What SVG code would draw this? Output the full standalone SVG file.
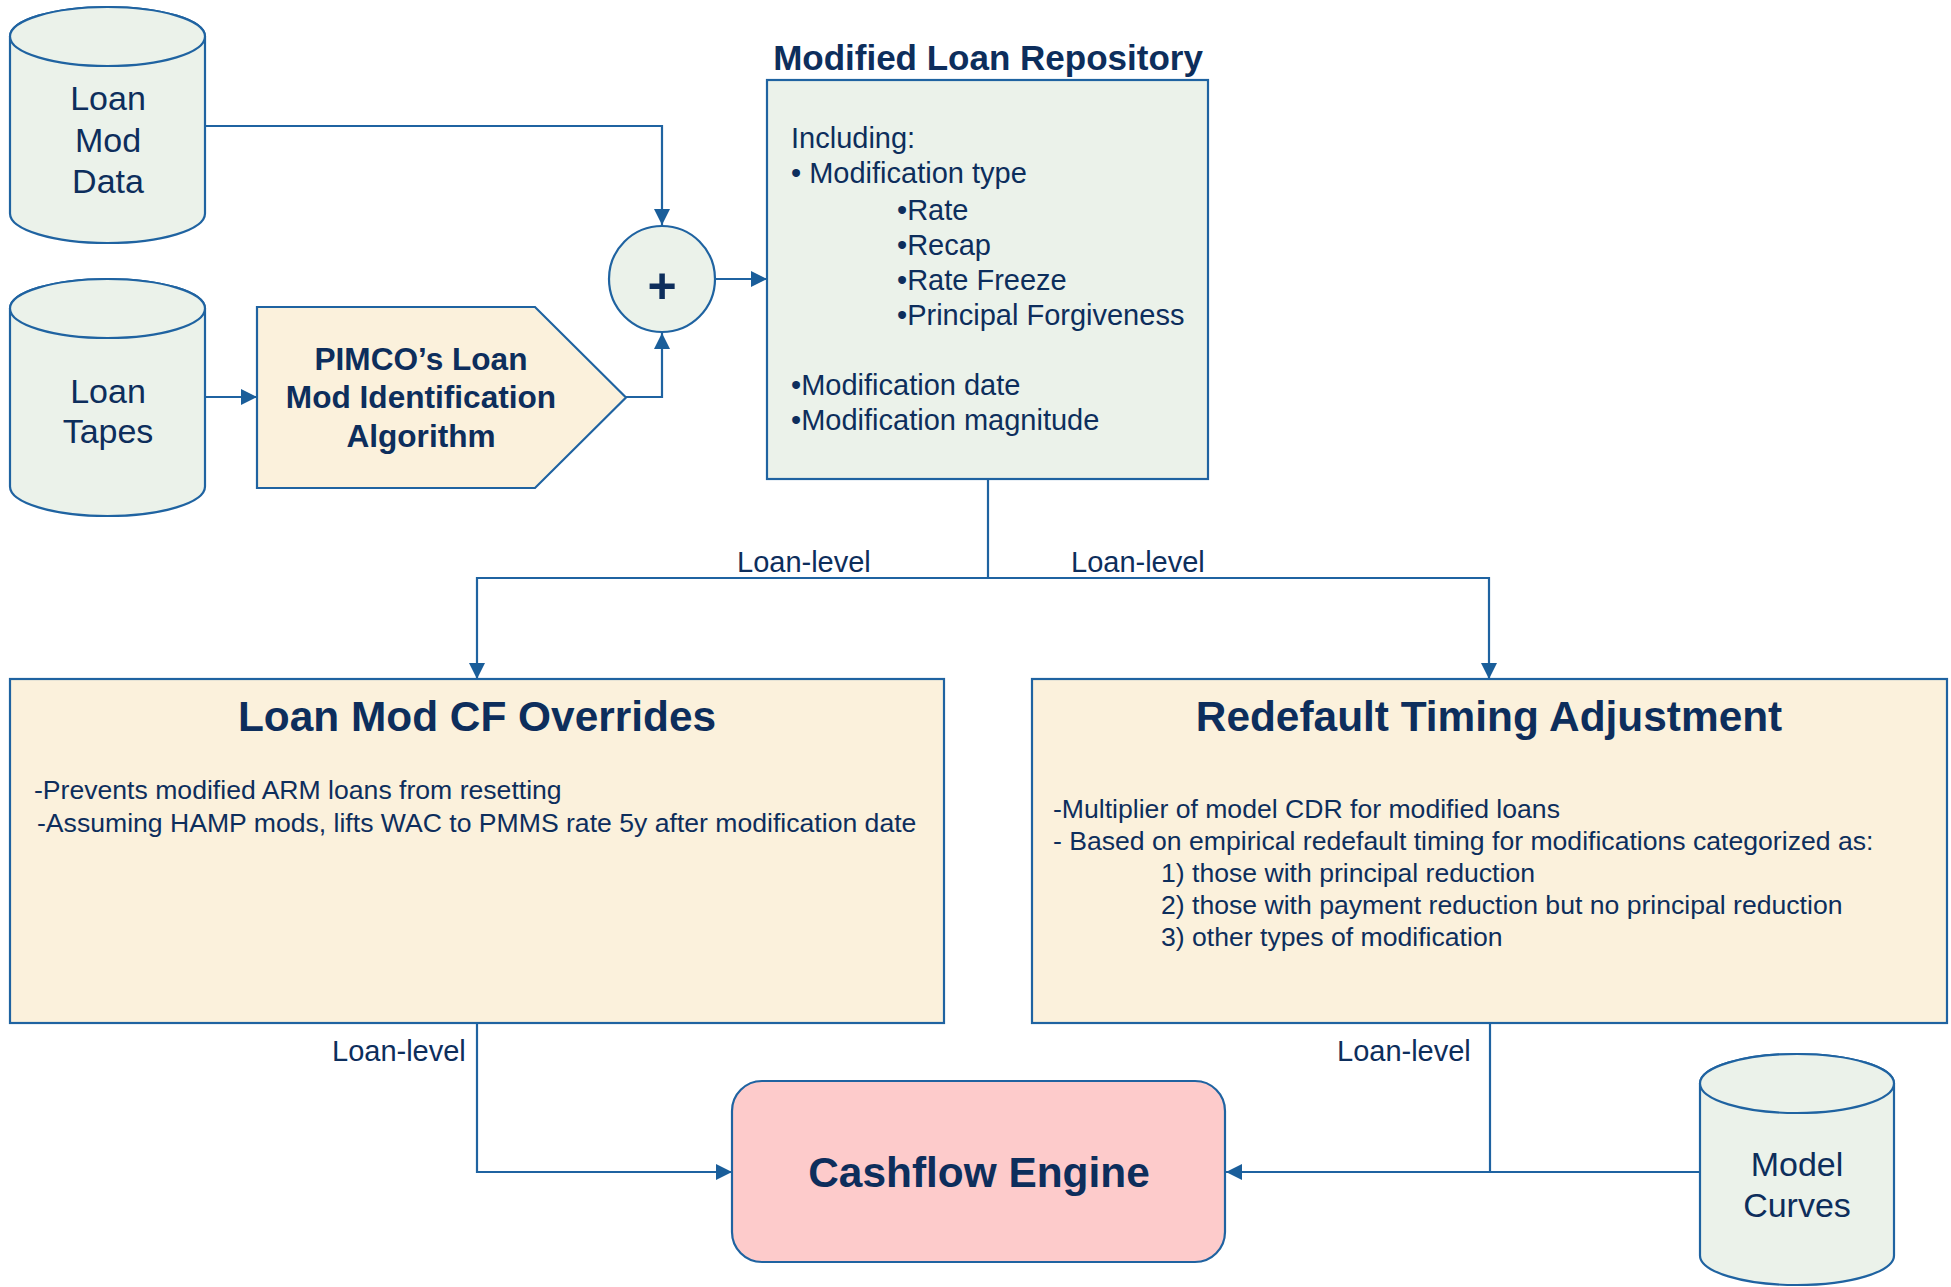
<svg xmlns="http://www.w3.org/2000/svg" width="1951" height="1287" viewBox="0 0 1951 1287">
<style>
.shape{stroke:#1F63A1;stroke-width:2.2}
.green{fill:#EBF2EA}
.yellow{fill:#FBF1DC}
.pink{fill:#FDCBCB}
.conn{fill:none;stroke:#1F63A1;stroke-width:2.2}
text{font-family:"Liberation Sans",Arial,sans-serif;fill:#0D2E5C}
.cyl{font-size:34px;text-anchor:middle}
.bold{font-weight:bold}
.body29{font-size:29px}
.body26{font-size:26.6px}
.lbl{font-size:29px}
.title{font-size:42.4px;font-weight:bold;text-anchor:middle}
</style>
<defs>
<marker id="arr" viewBox="0 0 16 16" refX="16" refY="8" markerWidth="16" markerHeight="16" markerUnits="userSpaceOnUse" orient="auto">
<path d="M0,0 L16,8 L0,16 Z" fill="#1A5E9A"/>
</marker>
</defs>
<rect width="1951" height="1287" fill="#FFFFFF"/>

<g id="connectors">
<path class="conn" d="M205,126 H662 V225" marker-end="url(#arr)"/>
<path class="conn" d="M205,397 H257" marker-end="url(#arr)"/>
<path class="conn" d="M626,397 H662 V333" marker-end="url(#arr)"/>
<path class="conn" d="M715,279 H767" marker-end="url(#arr)"/>
<path class="conn" d="M988,479 V578 H477 V679" marker-end="url(#arr)"/>
<path class="conn" d="M988,578 H1489 V679" marker-end="url(#arr)"/>
<path class="conn" d="M477,1023 V1172 H732" marker-end="url(#arr)"/>
<path class="conn" d="M1490,1023 V1172"/>
<path class="conn" d="M1700,1172 H1226" marker-end="url(#arr)"/>
<text class="lbl" x="737" y="572">Loan-level</text>
<text class="lbl" x="1071" y="572">Loan-level</text>
<text class="lbl" x="332" y="1061">Loan-level</text>
<text class="lbl" x="1337" y="1061">Loan-level</text>
</g>

<g id="loan-mod-data">
<path class="shape green" d="M10,36.5 L10,213.5 A97.5,29.5 0 0 0 205,213.5 L205,36.5 A97.5,29.5 0 0 0 10,36.5 Z"/>
<ellipse class="shape green" cx="107.5" cy="36.5" rx="97.5" ry="29.5"/>
<text class="cyl" x="108" y="110">Loan</text>
<text class="cyl" x="108" y="152">Mod</text>
<text class="cyl" x="108" y="193">Data</text>
</g>

<g id="loan-tapes">
<path class="shape green" d="M10,308.5 L10,486.5 A97.5,29.5 0 0 0 205,486.5 L205,308.5 A97.5,29.5 0 0 0 10,308.5 Z"/>
<ellipse class="shape green" cx="107.5" cy="308.5" rx="97.5" ry="29.5"/>
<text class="cyl" x="108" y="403">Loan</text>
<text class="cyl" x="108" y="443">Tapes</text>
</g>

<g id="pimco-algorithm">
<path class="shape yellow" d="M257,307 L535,307 L626,397.5 L535,488 L257,488 Z"/>
<text class="bold" font-size="31.6" text-anchor="middle" x="421" y="370">PIMCO’s Loan</text>
<text class="bold" font-size="31.6" text-anchor="middle" x="421" y="408">Mod Identification</text>
<text class="bold" font-size="31.6" text-anchor="middle" x="421" y="447">Algorithm</text>
</g>

<g id="combine">
<circle class="shape green" cx="662" cy="279" r="53"/>
<text class="bold" font-size="50" text-anchor="middle" x="662" y="303">+</text>
</g>

<g id="modified-loan-repository">
<text class="bold" font-size="35" text-anchor="middle" x="988" y="70">Modified Loan Repository</text>
<rect class="shape green" x="767" y="80" width="441" height="399"/>
<text class="body29" x="791" y="148">Including:</text>
<text class="body29" x="791" y="183">• Modification type</text>
<text class="body29" x="897" y="220">•Rate</text>
<text class="body29" x="897" y="255">•Recap</text>
<text class="body29" x="897" y="290">•Rate Freeze</text>
<text class="body29" x="897" y="325">•Principal Forgiveness</text>
<text class="body29" x="791" y="395">•Modification date</text>
<text class="body29" x="791" y="430">•Modification magnitude</text>
</g>

<g id="loan-mod-cf-overrides">
<rect class="shape yellow" x="10" y="679" width="934" height="344"/>
<text class="title" x="477" y="731">Loan Mod CF Overrides</text>
<text class="body26" x="34" y="799">-Prevents modified ARM loans from resetting</text>
<text class="body26" x="37" y="832">-Assuming HAMP mods, lifts WAC to PMMS rate 5y after modification date</text>
</g>

<g id="redefault-timing-adjustment">
<rect class="shape yellow" x="1032" y="679" width="915" height="344"/>
<text class="title" x="1489" y="731">Redefault Timing Adjustment</text>
<text class="body26" x="1053" y="818">-Multiplier of model CDR for modified loans</text>
<text class="body26" x="1053" y="850">- Based on empirical redefault timing for modifications categorized as:</text>
<text class="body26" x="1161" y="882">1) those with principal reduction</text>
<text class="body26" x="1161" y="914">2) those with payment reduction but no principal reduction</text>
<text class="body26" x="1161" y="946">3) other types of modification</text>
</g>

<g id="cashflow-engine">
<rect class="shape pink" x="732" y="1081" width="493" height="181" rx="30" ry="30"/>
<text class="title" x="979" y="1187">Cashflow Engine</text>
</g>

<g id="model-curves">
<path class="shape green" d="M1700,1083.5 L1700,1255.5 A97,29.5 0 0 0 1894,1255.5 L1894,1083.5 A97,29.5 0 0 0 1700,1083.5 Z"/>
<ellipse class="shape green" cx="1797" cy="1083.5" rx="97" ry="29.5"/>
<text class="cyl" x="1797" y="1176">Model</text>
<text class="cyl" x="1797" y="1217">Curves</text>
</g>
</svg>
